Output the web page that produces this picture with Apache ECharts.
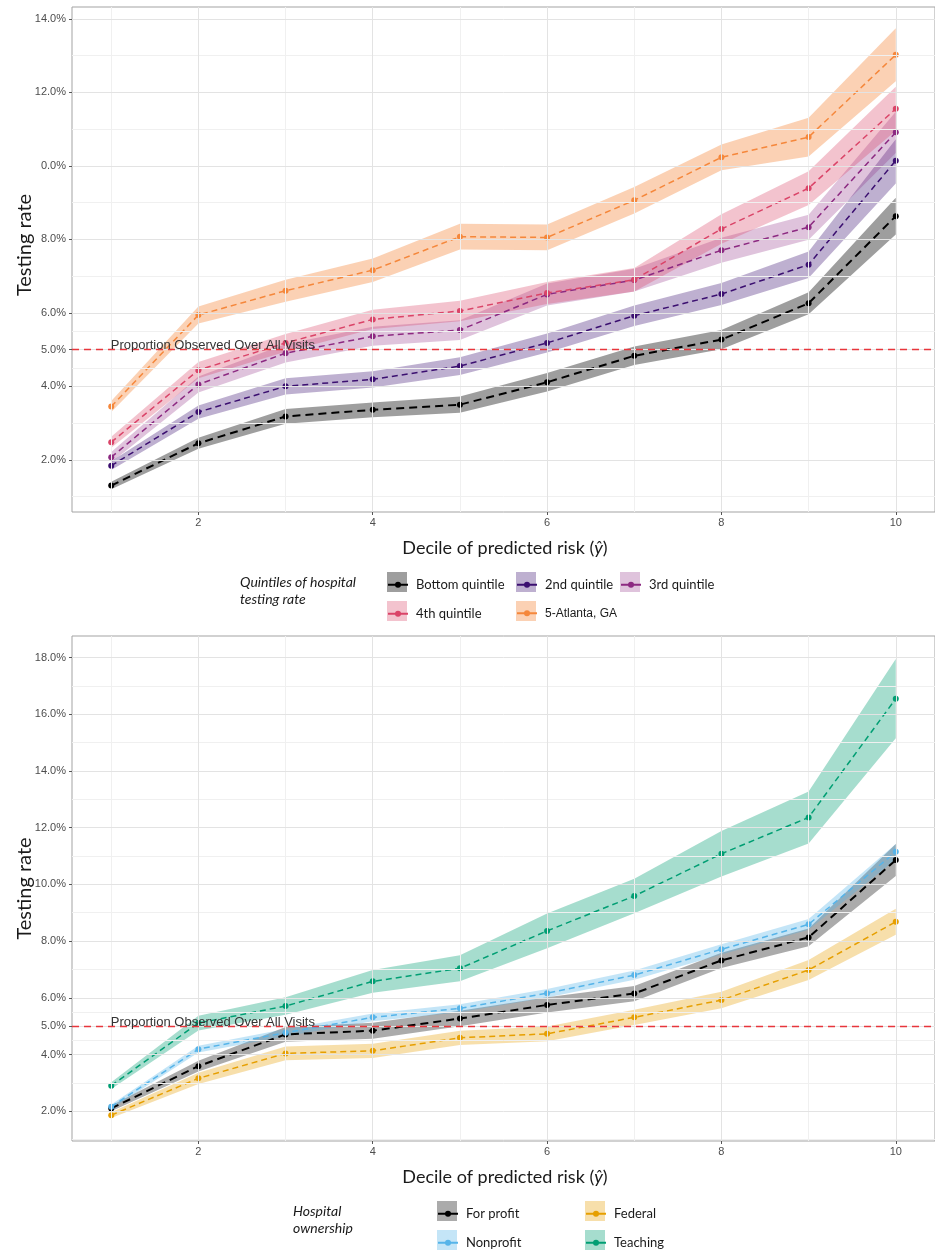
<!DOCTYPE html>
<html><head><meta charset="utf-8">
<script src="https://cdn.jsdelivr.net/npm/echarts@6/dist/echarts.min.js"></script>
<style>html,body{margin:0;padding:0;background:#fff}#c{width:935px;height:1251px}</style>
</head><body><div id="c"></div>
<script>
// ---------- DATA ----------
const deciles = [1, 2, 3, 4, 5, 6, 7, 8, 9, 10];

// Top panel: quintiles of hospital testing rate (%)
const topNames = ['Bottom quintile', '2nd quintile', '3rd quintile', '4th quintile', '5-Atlanta, GA'];
const qBottom   = [1.30, 2.45, 3.18, 3.36, 3.50, 4.11, 4.83, 5.27, 6.26, 8.63];
const qBottomLo = [1.20, 2.30, 2.98, 3.16, 3.28, 3.86, 4.58, 5.01, 5.96, 8.13];
const qBottomHi = [1.40, 2.60, 3.38, 3.56, 3.72, 4.36, 5.08, 5.53, 6.56, 9.13];
const q2   = [1.84, 3.30, 4.00, 4.19, 4.55, 5.18, 5.92, 6.51, 7.31, 10.14];
const q2Lo = [1.72, 3.12, 3.78, 3.97, 4.31, 4.92, 5.64, 6.21, 6.95, 9.52];
const q2Hi = [1.96, 3.48, 4.22, 4.41, 4.79, 5.44, 6.20, 6.81, 7.67, 10.72];
const q3   = [2.07, 4.05, 4.90, 5.36, 5.53, 6.50, 6.89, 7.70, 8.33, 10.91];
const q3Lo = [1.93, 3.83, 4.65, 5.10, 5.26, 6.20, 6.58, 7.36, 7.99, 10.35];
const q3Hi = [2.21, 4.27, 5.15, 5.62, 5.80, 6.80, 7.20, 8.04, 8.67, 11.47];
const q4   = [2.48, 4.44, 5.18, 5.82, 6.05, 6.54, 6.90, 8.28, 9.39, 11.55];
const q4Lo = [2.33, 4.22, 4.94, 5.56, 5.77, 6.24, 6.58, 7.88, 8.93, 10.95];
const q4Hi = [2.63, 4.66, 5.42, 6.08, 6.33, 6.84, 7.22, 8.68, 9.85, 12.15];
const q5   = [3.45, 5.94, 6.60, 7.16, 8.07, 8.05, 9.06, 10.23, 10.78, 13.02];
const q5Lo = [3.30, 5.71, 6.30, 6.84, 7.72, 7.70, 8.70, 9.88, 10.25, 12.30];
const q5Hi = [3.60, 6.17, 6.90, 7.48, 8.42, 8.40, 9.42, 10.58, 11.31, 13.74];

// Bottom panel: hospital ownership (%)
const botNames = ['For profit', 'Nonprofit', 'Federal', 'Teaching'];
const forProfit   = [2.10, 3.59, 4.71, 4.84, 5.27, 5.75, 6.15, 7.32, 8.13, 10.86];
const forProfitLo = [2.00, 3.40, 4.45, 4.56, 5.00, 5.48, 5.88, 7.05, 7.82, 10.30];
const forProfitHi = [2.20, 3.78, 4.97, 5.12, 5.54, 6.02, 6.42, 7.59, 8.44, 11.42];
const nonprofit   = [2.16, 4.19, 4.77, 5.31, 5.63, 6.16, 6.80, 7.71, 8.59, 11.15];
const nonprofitLo = [2.08, 4.07, 4.64, 5.17, 5.49, 6.01, 6.64, 7.53, 8.40, 10.88];
const nonprofitHi = [2.24, 4.31, 4.90, 5.45, 5.77, 6.31, 6.96, 7.89, 8.78, 11.42];
const federal     = [1.86, 3.16, 4.04, 4.13, 4.59, 4.73, 5.31, 5.92, 6.98, 8.68];
const federalLo   = [1.76, 2.96, 3.80, 3.88, 4.34, 4.47, 5.04, 5.63, 6.63, 8.22];
const federalHi   = [1.96, 3.36, 4.28, 4.38, 4.84, 4.99, 5.58, 6.21, 7.33, 9.14];
const teaching    = [2.90, 5.11, 5.71, 6.58, 7.04, 8.36, 9.59, 11.08, 12.36, 16.55];
const teachingLo  = [2.78, 4.85, 5.40, 6.18, 6.58, 7.75, 8.98, 10.28, 11.44, 15.15];
const teachingHi  = [3.02, 5.37, 6.02, 6.98, 7.50, 8.97, 10.20, 11.88, 13.28, 17.95];

// Axes / ticks
const xTicks = [2, 4, 6, 8, 10];
const xTickLabels = ['2', '4', '6', '8', '10'];
const xMinor = [1, 3, 5, 7, 9];
const topYTicks = [2, 4, 5, 6, 8, 10, 12, 14];
const topYTickLabels = ['2.0%', '4.0%', '5.0%', '6.0%', '8.0%', '0.0%', '12.0%', '14.0%'];
const topYMinor = [1, 3, 4.5, 5.5, 7, 9, 11, 13];
const botYTicks = [2, 4, 5, 6, 8, 10, 12, 14, 16, 18];
const botYTickLabels = ['2.0%', '4.0%', '5.0%', '6.0%', '8.0%', '10.0%', '12.0%', '14.0%', '16.0%', '18.0%'];
const botYMinor = [1, 3, 4.5, 5.5, 7, 9, 11, 13, 15, 17];
const refRate = 5;
const refLabel = 'Proportion Observed Over All Visits';
const yTitle = 'Testing rate';
const xTitleMain = 'Decile of predicted risk (';
const xTitleVar = 'ŷ';
const topLegendTitle = ['Quintiles of hospital', 'testing rate'];
const botLegendTitle = ['Hospital', 'ownership'];

// ---------- STYLE ----------
const topLine = ['#000000', '#3B0F70', '#8C2981', '#DA4468', '#F5873B'];
const topFill = ['rgba(0,0,0,0.38)', 'rgba(59,15,112,0.33)', 'rgba(140,41,129,0.28)', 'rgba(218,68,104,0.32)', 'rgba(245,135,59,0.38)'];
const botLine = ['#000000', '#56B4E9', '#E69F00', '#009E73'];
const botFill = ['rgba(0,0,0,0.33)', 'rgba(86,180,233,0.35)', 'rgba(230,159,0,0.33)', 'rgba(0,158,115,0.35)'];
const FONT = 'Lato, "Noto Sans", sans-serif';
const TICKFONT = '"Liberation Sans", Arial, sans-serif';

const topVals = [qBottom, q2, q3, q4, q5];
const topLo = [qBottomLo, q2Lo, q3Lo, q4Lo, q5Lo];
const topHi = [qBottomHi, q2Hi, q3Hi, q4Hi, q5Hi];
const botVals = [forProfit, nonprofit, federal, teaching];
const botLo = [forProfitLo, nonprofitLo, federalLo, teachingLo];
const botHi = [forProfitHi, nonprofitHi, federalHi, teachingHi];

function bandSeries(name, gi, lo, hi, fill) {
  return {
    type: 'custom', name: name, xAxisIndex: gi, yAxisIndex: gi, z: 2, silent: true, animation: false,
    itemStyle: { color: fill },
    data: deciles.map((d, i) => [d, lo[i], hi[i]]),
    encode: { x: 0, y: [1, 2] },
    renderItem: function (params, api) {
      if (params.dataIndex !== 0) return null;
      const pts = [];
      for (let i = 0; i < deciles.length; i++) pts.push(api.coord([deciles[i], hi[i]]));
      for (let i = deciles.length - 1; i >= 0; i--) pts.push(api.coord([deciles[i], lo[i]]));
      return { type: 'polygon', shape: { points: pts }, style: { fill: fill, stroke: null } };
    }
  };
}
function lineSeries(name, gi, vals, color, width, dash) {
  return {
    type: 'line', name: name, xAxisIndex: gi, yAxisIndex: gi, z: 4, animation: false,
    data: deciles.map((d, i) => [d, vals[i]]),
    symbol: 'circle', symbolSize: 6, showSymbol: true,
    itemStyle: { color: color },
    lineStyle: { color: color, width: width, type: dash },
    emphasis: { disabled: true }
  };
}
function gridLines(gi, yMajor, yMinor) {
  const d = [];
  yMinor.forEach(v => d.push({ yAxis: v, lineStyle: { color: '#F0F0F0', width: 1, type: 'solid' } }));
  xMinor.forEach(v => d.push({ xAxis: v, lineStyle: { color: '#F0F0F0', width: 1, type: 'solid' } }));
  yMajor.forEach(v => d.push({ yAxis: v, lineStyle: { color: '#E3E3E3', width: 1, type: 'solid' } }));
  xTicks.forEach(v => d.push({ xAxis: v, lineStyle: { color: '#E3E3E3', width: 1, type: 'solid' } }));
  return {
    type: 'line', xAxisIndex: gi, yAxisIndex: gi, data: [], z: 1, silent: true, animation: false,
    markLine: { silent: true, animation: false, symbol: ['none', 'none'], label: { show: false }, data: d }
  };
}
function refLine(gi) {
  return {
    type: 'line', xAxisIndex: gi, yAxisIndex: gi, data: [], z: 3, silent: true, animation: false,
    markLine: { silent: true, animation: false, symbol: ['none', 'none'], label: { show: false },
      data: [{ yAxis: refRate, lineStyle: { color: '#E8363C', width: 1.4, type: [7, 5] } }] }
  };
}
function refText(gi) {
  return {
    type: 'line', xAxisIndex: gi, yAxisIndex: gi, data: [], z: 6, silent: true, animation: false,
    markPoint: { silent: true, animation: false,
      data: [{ coord: [1, refRate], symbol: 'circle', symbolSize: 1, itemStyle: { color: 'rgba(0,0,0,0)' },
        label: { show: true, position: 'right', distance: 0, offset: [-1, -4], formatter: refLabel,
          color: '#333333', fontSize: 13, fontFamily: TICKFONT } }] }
  };
}

const series = [];
series.push(gridLines(0, topYTicks, topYMinor), gridLines(1, botYTicks, botYMinor));
topNames.forEach((n, i) => series.push(bandSeries(n + ' band', 0, topLo[i], topHi[i], topFill[i])));
botNames.forEach((n, i) => series.push(bandSeries(n + ' band', 1, botLo[i], botHi[i], botFill[i])));
series.push(refLine(0), refLine(1));
topNames.forEach((n, i) => series.push(lineSeries(n, 0, topVals[i], topLine[i], i === 0 ? 2 : 1.5, i === 0 ? [8, 5] : [6, 4])));
botNames.forEach((n, i) => series.push(lineSeries(n, 1, botVals[i], botLine[i], i === 0 ? 2 : 1.5, i === 0 ? [8, 5] : [6, 4])));
series.push(refText(0), refText(1));

// legend key positions
const topKeyPos = [[387, 572], [516, 572], [620, 572], [387, 601], [516, 601]];
const botKeyPos = [[437, 1201], [437, 1230], [585, 1201], [585, 1230]];
const legends = [];
function addLegend(name, fill, pos, special) {
  legends.push({
    data: [{ name: name + ' band', icon: 'rect', itemStyle: { color: fill } }],
    left: pos[0], top: pos[1], itemWidth: 20, itemHeight: 20, padding: 0, selectedMode: false, z: 3,
    formatter: function () { return ''; }
  });
  legends.push({
    data: [{ name: name }],
    left: pos[0], top: pos[1] + 6.25, itemWidth: 20, itemHeight: 7.5, padding: 0, selectedMode: false, z: 5,
    lineStyle: { type: 'solid' },
    textStyle: special ? { color: '#1a1a1a', fontSize: 12, fontFamily: TICKFONT, padding: [0, 0, 0, 3] }
                       : { color: '#1a1a1a', fontSize: 13, fontFamily: FONT, padding: [0, 0, 0, 3] }
  });
}
topNames.forEach((n, i) => addLegend(n, topFill[i], topKeyPos[i], n.indexOf('Atlanta') >= 0));
botNames.forEach((n, i) => addLegend(n, botFill[i], botKeyPos[i], false));

function xAxisCfg(gi) {
  return { gridIndex: gi, type: 'value', min: 0.55, max: 10.45,
    axisLine: { show: false }, splitLine: { show: false },
    axisTick: { show: true, customValues: xTicks, length: 3, lineStyle: { color: '#555' } },
    axisLabel: { customValues: xTicks, formatter: v => xTickLabels[xTicks.indexOf(v)], color: '#4D4D4D', fontSize: 11, fontFamily: TICKFONT, margin: 5 } };
}
function yAxisCfg(gi, mn, mx, ticks, labels) {
  return { gridIndex: gi, type: 'value', min: mn, max: mx,
    axisLine: { show: false }, splitLine: { show: false },
    axisTick: { show: true, customValues: ticks, length: 3, lineStyle: { color: '#555' } },
    axisLabel: { customValues: ticks, formatter: v => labels[ticks.indexOf(v)], color: '#4D4D4D', fontSize: 11, fontFamily: TICKFONT, margin: 6 } };
}

const xTitleRich = { a: { fontSize: 18, fontFamily: FONT, color: '#1a1a1a' }, b: { fontSize: 18, fontFamily: FONT, fontStyle: 'italic', color: '#1a1a1a' } };
function xTitle(y) {
  return { type: 'text', x: 505, y: y, z: 10,
    style: { text: '{a|' + xTitleMain + '}{b|' + xTitleVar + '}{a|)}', rich: xTitleRich, align: 'center', verticalAlign: 'middle', fill: '#1a1a1a' } };
}
function yTitleEl(y) {
  return { type: 'text', x: 25, y: y, rotation: Math.PI / 2, z: 10,
    style: { text: yTitle, fontSize: 20, fontFamily: FONT, fill: '#1a1a1a', align: 'center', verticalAlign: 'middle' } };
}
function legTitle(text, x, y) {
  return { type: 'text', x: x, y: y, z: 10,
    style: { text: text, fontSize: 14, fontStyle: 'italic', fontFamily: FONT, fill: '#1a1a1a', align: 'left', verticalAlign: 'middle' } };
}

const option = {
  animation: false,
  backgroundColor: '#ffffff',
  grid: [
    { left: 72, top: 7, width: 867, height: 505, show: true, borderColor: '#A3A3A3', borderWidth: 1, backgroundColor: '#fff' },
    { left: 72, top: 636, width: 867, height: 505, show: true, borderColor: '#A3A3A3', borderWidth: 1, backgroundColor: '#fff' }
  ],
  xAxis: [xAxisCfg(0), xAxisCfg(1)],
  yAxis: [yAxisCfg(0, 0.58, 14.32, topYTicks, topYTickLabels), yAxisCfg(1, 0.95, 18.76, botYTicks, botYTickLabels)],
  legend: legends,
  graphic: [
    yTitleEl(245), yTitleEl(888.5), xTitle(548), xTitle(1177),
    legTitle(topLegendTitle[0], 240, 582), legTitle(topLegendTitle[1], 240, 599),
    legTitle(botLegendTitle[0], 293, 1211), legTitle(botLegendTitle[1], 293, 1228)
  ],
  series: series
};
const chart = echarts.init(document.getElementById('c'), null, { renderer: 'canvas' });
chart.setOption(option);
</script></body></html>
